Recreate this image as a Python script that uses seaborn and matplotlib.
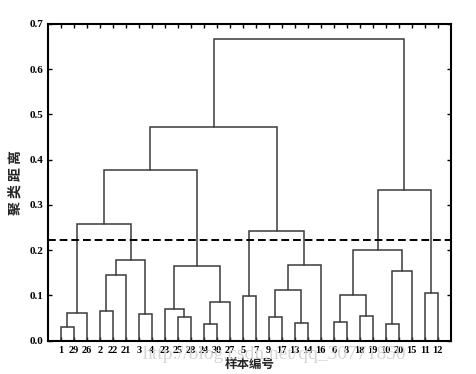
import matplotlib
matplotlib.use("Agg")
import matplotlib.pyplot as plt
import seaborn as sns
import numpy as np

sns.set_theme(style="white")
plt.rcParams['font.family'] = ['Liberation Serif', 'Noto Sans CJK SC', 'DejaVu Sans']

# leaf order along the x axis (sample numbers)
leaf_order = [1, 29, 26, 2, 22, 21, 3, 4, 23, 25, 28, 24, 30, 27, 5, 7,
              9, 17, 13, 14, 16, 6, 8, 18, 19, 10, 20, 15, 11, 12]

# merges: (left, right, height); ints = sample numbers, "cN" = earlier merge N
merge_left = [1, "c0", 2, "c2", 3, "c3", "c1", 25, 23, 24, "c9", "c8", "c6",
              5, 9, 13, "c14", "c16", "c13", "c12", 6, 18, "c20", 10, "c23",
              "c22", 11, "c25", "c19"]
merge_right = [29, 26, 22, 21, 4, "c4", "c5", 28, "c7", 30, 27, "c10", "c11",
               7, 17, 14, "c15", 16, "c17", "c18", 8, 19, "c21", 20, 15,
               "c24", 12, "c26", "c27"]
merge_height = [0.031, 0.061, 0.066, 0.146, 0.059, 0.179, 0.257, 0.053, 0.071,
                0.038, 0.086, 0.166, 0.378, 0.099, 0.053, 0.040, 0.112, 0.167,
                0.242, 0.473, 0.041, 0.055, 0.100, 0.038, 0.155, 0.201, 0.106,
                0.333, 0.667]

cut_height = 0.222
yticks = [0.0, 0.1, 0.2, 0.3, 0.4, 0.5, 0.6, 0.7]

fig = plt.figure(figsize=(4.77, 3.74), dpi=100)
ax = fig.add_axes([0.100, 0.089, 0.845, 0.847])

pos = {leaf: i + 1 for i, leaf in enumerate(leaf_order)}
hgt = {leaf: 0.0 for leaf in leaf_order}
link_color = "#3a3a3a"
for k, (a, b, h) in enumerate(zip(merge_left, merge_right, merge_height)):
    xa, xb = pos[a], pos[b]
    ya, yb = hgt[a], hgt[b]
    ax.plot([xa, xa, xb, xb], [ya, h, h, yb], color=link_color, lw=1.1,
            solid_joinstyle="miter")
    pos[f"c{k}"] = (xa + xb) / 2
    hgt[f"c{k}"] = h

ax.axhline(cut_height, color="black", lw=1.4, ls=(0, (4, 2)))

ax.set_xlim(0, 31)
ax.set_ylim(0, 0.7)
ax.set_xticks(range(1, len(leaf_order) + 1))
ax.set_xticklabels([str(v) for v in leaf_order], fontsize=7.5, fontweight="bold")
ax.set_yticks(yticks)
ax.set_yticklabels([f"{v:.1f}" for v in yticks], fontsize=8, fontweight="bold")
ax.tick_params(axis="both", direction="in", length=3, width=1.0, pad=3,
               top=True, right=True, bottom=True, left=True, colors="black")
ax.tick_params(axis="x", pad=4)
for s in ax.spines.values():
    s.set_color("black")
    s.set_linewidth(1.5)

ax.set_xlabel("样本编号", fontsize=9, fontweight="bold",
              family=["Noto Sans CJK SC", "DejaVu Sans"], labelpad=2)
ax.set_ylabel("聚 类 距 离", fontsize=10, fontweight="bold",
              family=["Noto Sans CJK SC", "DejaVu Sans"], labelpad=5)

fig.text(0.30, 0.04, "http://blog.csdn.net/qq_30771850", fontsize=14,
         color="#d6d6d6", family=["Liberation Serif"], zorder=0)

fig.savefig("out.png", dpi=100, facecolor="white")
